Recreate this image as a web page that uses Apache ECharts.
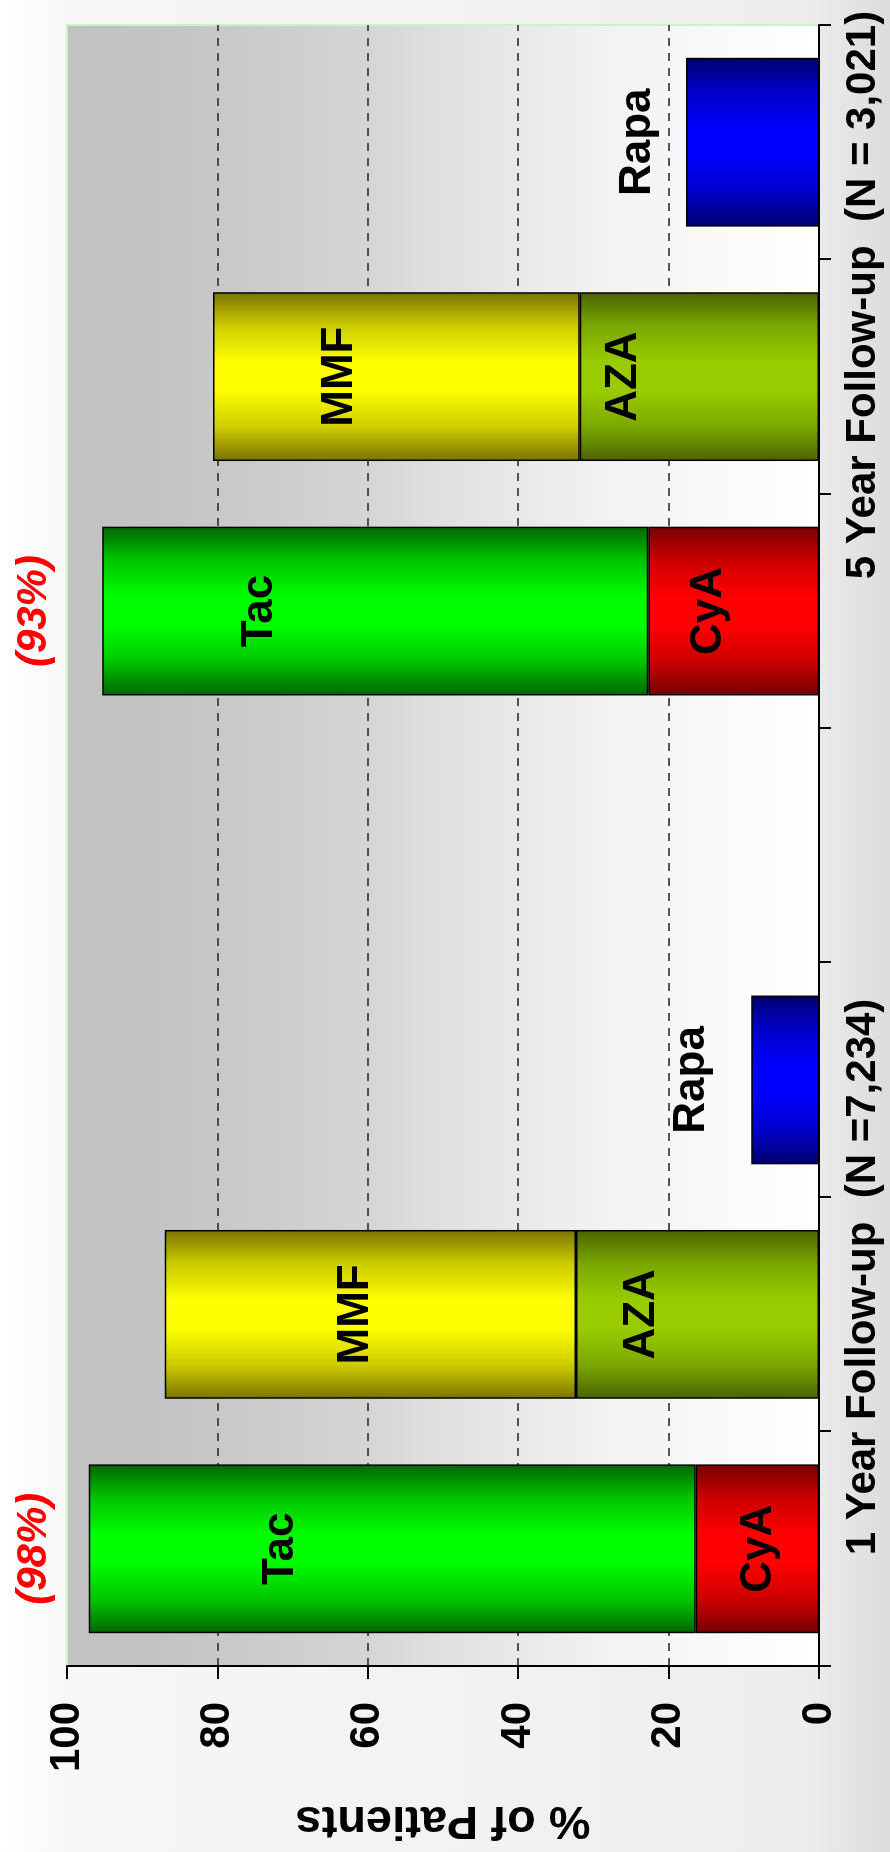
<!DOCTYPE html>
<html><head><meta charset="utf-8">
<script src="https://cdn.jsdelivr.net/npm/echarts@6/dist/echarts.min.js"></script>
<style>
html,body{margin:0;padding:0;overflow:hidden;width:890px;height:1852px;background:#f2f2f2}
#wrap{position:absolute;left:0;top:0;width:1852px;height:890px;transform-origin:0 0;transform:translate(0,1852px) rotate(-90deg);}
</style></head><body><div id="wrap"></div>
<script>
// ---- data ----
const categories = ['1 Year CyA/Tac', '1 Year AZA/MMF', '1 Year Rapa', '', '5 Year CyA/Tac', '5 Year AZA/MMF', '5 Year Rapa'];
const cyaValues  = [16.4, null, null, null, 22.7, null, null];
const tacValues  = [80.7, null, null, null, 72.6, null, null];
const azaValues  = [null, 32.3, null, null, null, 31.8, null];
const mmfValues  = [null, 54.7, null, null, null, 48.8, null];
const rapaValues = [null, null, 9.0, null, null, null, 17.7];
const valueTicks = [0, 20, 40, 60, 80, 100];
const barLabelTexts  = ['Tac', 'CyA', 'MMF', 'AZA', 'Rapa', 'Tac', 'CyA', 'MMF', 'AZA', 'Rapa'];
const barLabelCats   = [0, 0, 1, 1, 2, 4, 4, 5, 5, 6];
const barLabelValues = [71.5, 8.0, 61.6, 23.5, 16.9, 74.3, 14.6, 63.7, 25.9, 24.1];
const totalLabels = ['(98%)', '(93%)'];
const totalLabelCats = [0, 4];
const groupLabels = ['1 Year Follow-up  (N =7,234)', '5 Year Follow-up  (N = 3,021)'];
const yAxisName = '% of Patients';

// ---- styling ----
const FONT = '"Liberation Sans", Arial, Helvetica, sans-serif';
function grad(dark, mid, bright) {
  return new echarts.graphic.LinearGradient(0, 0, 1, 0, [
    {offset: 0, color: dark}, {offset: 0.2, color: mid}, {offset: 0.42, color: bright},
    {offset: 0.58, color: bright}, {offset: 0.8, color: mid}, {offset: 1, color: dark}]);
}
const colors = {
  CyA: grad('#760000', '#cc0000', '#ff0000'),
  Tac: grad('#006600', '#00c400', '#00ff00'),
  AZA: grad('#4a6200', '#7aa800', '#99cc00'),
  MMF: grad('#7a7200', '#cccc00', '#ffff00'),
  Rapa: grad('#000070', '#0000c8', '#0000ff')
};
function barSeries(name, data) {
  return {
    name, type: 'bar', stack: 'all', data, barWidth: '72%',
    itemStyle: {color: colors[name], borderColor: '#000', borderWidth: 1.5},
    silent: true, z: 2
  };
}

const chart = echarts.init(document.getElementById('wrap'), null, {renderer: 'canvas', width: 1852, height: 890});
const option = {
  animation: false,
  backgroundColor: new echarts.graphic.LinearGradient(0, 0, 0, 1, [
    {offset: 0, color: '#ffffff'}, {offset: 0.08, color: '#f7f7f7'},
    {offset: 0.9, color: '#eeeeee'}, {offset: 1, color: '#dcdcdc'}]),
  grid: {
    left: 186, right: 25, top: 67, bottom: 71, show: true,
    borderColor: '#c8f5c8', borderWidth: 2,
    backgroundColor: new echarts.graphic.LinearGradient(0, 0, 0, 1, [
      {offset: 0, color: '#c2c2c2'}, {offset: 0.14, color: '#c4c4c4'},
      {offset: 0.4, color: '#d5d5d5'}, {offset: 0.5, color: '#e0e0e0'},
      {offset: 0.7, color: '#f1f1f1'}, {offset: 0.9, color: '#fbfbfb'}, {offset: 1, color: '#ffffff'}])
  },
  xAxis: {
    type: 'category', data: categories,
    axisLine: {lineStyle: {color: '#000', width: 2}},
    axisTick: {show: true, interval: 0, length: 12, lineStyle: {color: '#000', width: 2}},
    axisLabel: {show: false}
  },
  yAxis: {
    type: 'value', min: valueTicks[0], max: valueTicks[valueTicks.length - 1],
    interval: valueTicks[1] - valueTicks[0],
    axisLine: {show: true, lineStyle: {color: '#000', width: 2}},
    axisTick: {show: true, length: 13, lineStyle: {color: '#000', width: 2}},
    axisLabel: {fontSize: 42, fontWeight: 'bold', color: '#000', fontFamily: FONT, margin: 36},
    splitLine: {show: true, showMinLine: false, showMaxLine: false,
      lineStyle: {color: '#222', width: 1.5, type: [8, 7]}}
  },
  series: [
    barSeries('CyA', cyaValues),
    barSeries('Tac', tacValues),
    barSeries('AZA', azaValues),
    barSeries('MMF', mmfValues),
    barSeries('Rapa', rapaValues),
    {
      type: 'scatter', silent: true, z: 10, symbolSize: 1,
      itemStyle: {color: 'rgba(0,0,0,0)', opacity: 1},
      data: barLabelCats.map((c, i) => ({value: [c, barLabelValues[i]], name: barLabelTexts[i]})),
      label: {show: true, position: 'inside', formatter: p => p.name, opacity: 1,
        fontSize: 44, fontWeight: 'bold', color: '#000', fontFamily: FONT}
    }
  ]
};
chart.setOption(option);

// text annotations placed from the chart's own scales
const graphics = [];
totalLabels.forEach((t, i) => {
  const x = chart.convertToPixel({xAxisIndex: 0}, totalLabelCats[i]);
  graphics.push({type: 'text', x: x, y: 34, silent: true,
    style: {text: t, fill: '#ff0000', fontSize: 42, fontWeight: 'bold', fontStyle: 'italic',
      fontFamily: FONT, textAlign: 'center', textVerticalAlign: 'middle'}});
});
const groupLabelX = [575, 1557];
groupLabels.forEach((t, i) => {
  graphics.push({type: 'text', x: groupLabelX[i], y: 863, silent: true,
    style: {text: t, fill: '#000', fontSize: 42, fontWeight: 'bold', fontFamily: FONT,
      textAlign: 'center', textVerticalAlign: 'middle'}});
});
const yTop = chart.convertToPixel({yAxisIndex: 0}, valueTicks[valueTicks.length - 1]);
const yBot = chart.convertToPixel({yAxisIndex: 0}, valueTicks[0]);
graphics.push({type: 'text', x: 32, y: (yTop + yBot) / 2, rotation: Math.PI / 2, silent: true,
  style: {text: yAxisName, fill: '#000', fontSize: 47, fontWeight: 'bold', fontFamily: FONT,
    textAlign: 'center', textVerticalAlign: 'middle'}});
chart.setOption({graphic: graphics});
</script>
</body></html>
